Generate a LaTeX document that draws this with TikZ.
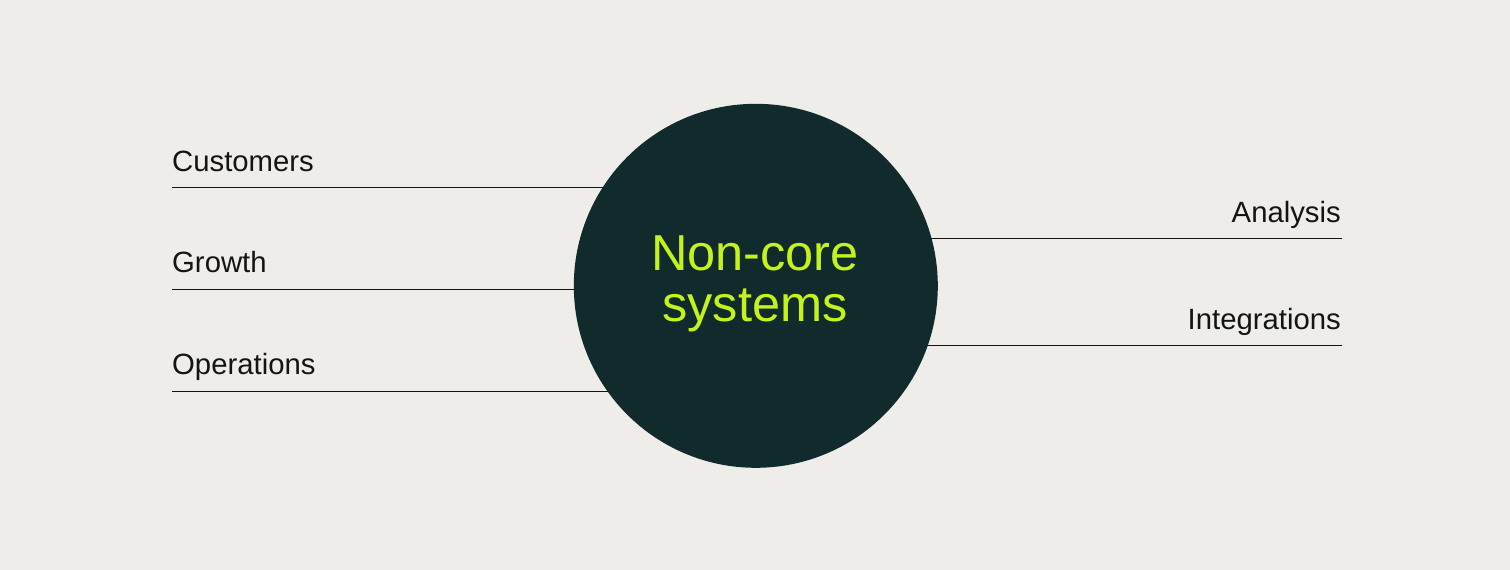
\documentclass[tikz,border=0pt]{standalone}
\usepackage{fontspec}
\setmainfont{Liberation Sans}
\usetikzlibrary{backgrounds}
\definecolor{bgc}{HTML}{EEEDE9}
\definecolor{corec}{HTML}{112B2D}
\definecolor{limec}{HTML}{C4F31C}
\definecolor{inkc}{HTML}{141414}
\tikzset{
  core/.style={circle, fill=corec, minimum size=364pt, inner sep=0pt},
  coretxt/.style={text=limec, align=center, inner sep=0pt, font=\fontsize{50.5}{51.5}\selectfont},
  lbl/.style={text=inkc, inner sep=0pt, font=\fontsize{29.3}{35}\selectfont},
  rule/.style={draw=inkc, line width=1.2pt}
}
\begin{document}
\begin{tikzpicture}[x=1pt,y=-1pt]
\useasboundingbox (0,0) rectangle (1510,570);
\node[core] (core) at (755.8,285.8) {};
\node[coretxt, anchor=base] (coretext) at (755,321.5) {Non-core\\systems};
% left labels
\node[lbl, anchor=base west] (cust) at (172,171.7) {Customers};
\node[lbl, anchor=base west] (grow) at (172,272.7) {Growth};
\node[lbl, anchor=base west] (oper) at (172,374) {Operations};
% right labels
\node[lbl, anchor=base east] (anal) at (1341,222) {Analysis};
\node[lbl, anchor=base east] (integ) at (1341,329) {Integrations};
% line ends
\coordinate (lc) at (172,187.3);
\coordinate (lg) at (172,289.3);
\coordinate (lo) at (172,391.3);
\coordinate (ra) at (1342,238.3);
\coordinate (ri) at (1342,345.3);
\begin{pgfonlayer}{background}
\fill[bgc] (0,0) rectangle (1510,570);
\draw[rule] (lc) -- (lc -| core.center);
\draw[rule] (lg) -- (lg -| core.center);
\draw[rule] (lo) -- (lo -| core.center);
\draw[rule] (ra) -- (ra -| core.center);
\draw[rule] (ri) -- (ri -| core.center);
\end{pgfonlayer}
\end{tikzpicture}
\end{document}
